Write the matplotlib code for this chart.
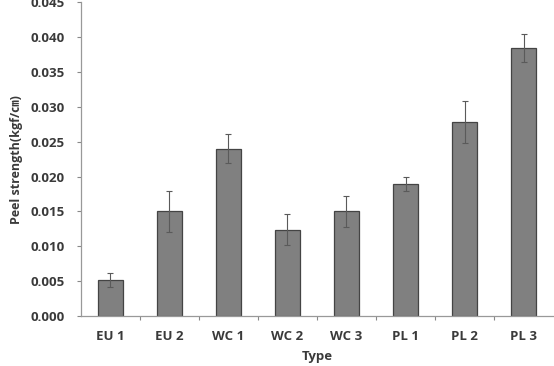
import matplotlib
matplotlib.use("Agg")
import matplotlib.pyplot as plt
import numpy as np

# peel strength per type
types = ["EU 1", "EU 2", "WC 1", "WC 2", "WC 3", "PL 1", "PL 2", "PL 3"]
strength = [0.0052, 0.0150, 0.0240, 0.0124, 0.0150, 0.0189, 0.0279, 0.0385]
err = [0.0010, 0.0030, 0.0021, 0.0022, 0.0022, 0.0010, 0.0030, 0.0020]

fonts = ["Open Sans", "Noto Sans CJK JP", "DejaVu Sans"]
plt.rcParams["font.family"] = fonts

fig = plt.figure(figsize=(5.54, 3.66), dpi=100)
ax = fig.add_axes([0.1462, 0.1366, 0.852, 0.8566])

x = np.arange(len(types))
ax.bar(x, strength, width=0.42, color="#808080", edgecolor="#444444", linewidth=0.9, zorder=2)
ax.errorbar(x, strength, yerr=err, fmt="none", ecolor="#5a5a5a", elinewidth=0.8,
            capsize=2.5, capthick=0.8, zorder=3)

ax.set_xlim(-0.5, len(types) - 0.5)
ax.set_ylim(0, 0.045)
ax.set_yticks(np.arange(0, 0.0451, 0.005))
ax.set_yticklabels([f"{v:.3f}" for v in np.arange(0, 0.0451, 0.005)])

# category labels in the middle, ticks on the boundaries
ax.set_xticks(x)
ax.set_xticklabels(types)
ax.tick_params(axis="x", which="major", length=0, pad=10)
ax.set_xticks(np.arange(0.5, len(types) - 0.5, 1), minor=True)
ax.tick_params(axis="x", which="minor", length=3, color="#888888", width=0.8)
ax.tick_params(axis="y", length=3, color="#888888", width=0.8, pad=9)

for lab in ax.get_xticklabels() + ax.get_yticklabels():
    lab.set_fontsize(9.5)
    lab.set_fontweight("bold")
    lab.set_color("#3a3a3a")

for s in ["top", "right"]:
    ax.spines[s].set_visible(False)
for s in ["left", "bottom"]:
    ax.spines[s].set_color("#999999")
    ax.spines[s].set_linewidth(0.9)

ax.set_xlabel("Type", fontsize=9.5, fontweight="bold", color="#3a3a3a", labelpad=5)
ax.set_ylabel("Peel strength(kgf/㎝)", fontsize=9, fontweight="bold", color="#3a3a3a", labelpad=5)

fig.savefig("out.png", dpi=100)
